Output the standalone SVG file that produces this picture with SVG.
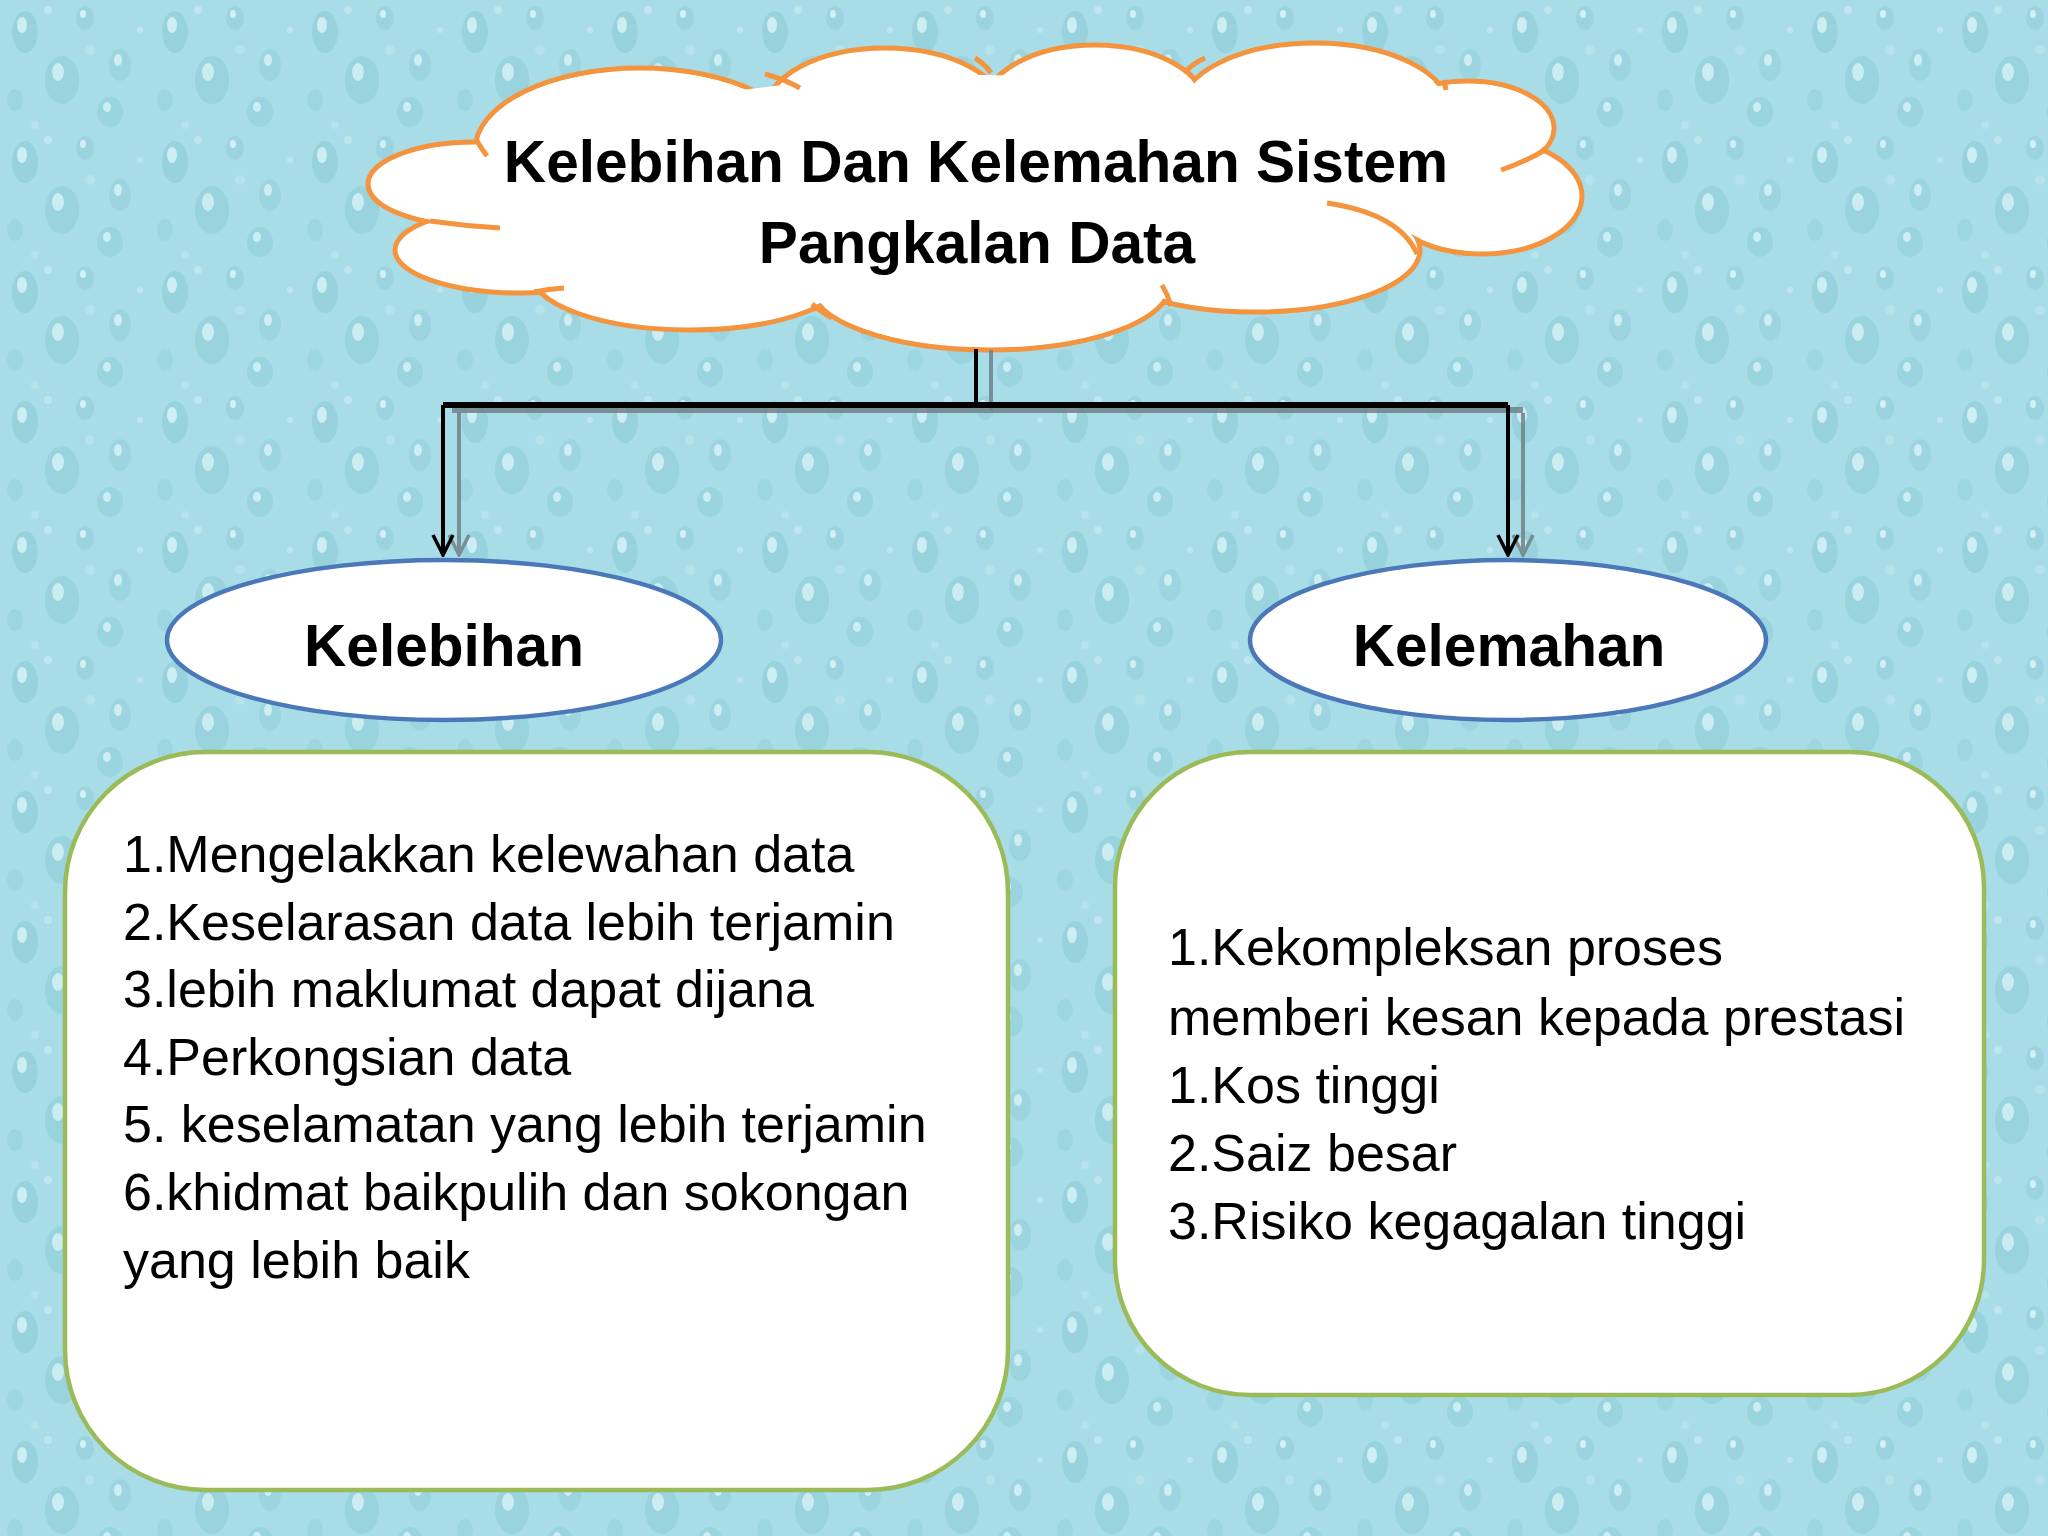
<svg xmlns="http://www.w3.org/2000/svg" width="2048" height="1536" viewBox="0 0 2048 1536">
<defs>
<pattern id="drops" x="0" y="0" width="150" height="130" patternUnits="userSpaceOnUse">
<rect width="150" height="130" fill="#a8dde7"/>
<ellipse cx="25" cy="32" rx="13" ry="21" fill="#97d2dd"/>
<ellipse cx="22" cy="25" rx="5" ry="8" fill="#cdeef3"/>
<ellipse cx="85" cy="18" rx="9" ry="12" fill="#9bd4df"/>
<ellipse cx="83" cy="14" rx="3" ry="4" fill="#d3f0f4"/>
<ellipse cx="62" cy="80" rx="17" ry="24" fill="#98d3de"/>
<ellipse cx="58" cy="72" rx="6" ry="9" fill="#cbedf2"/>
<ellipse cx="120" cy="65" rx="11" ry="16" fill="#9cd5e0"/>
<ellipse cx="118" cy="60" rx="4" ry="6" fill="#cfeef3"/>
<ellipse cx="15" cy="100" rx="8" ry="11" fill="#9dd5e0"/>
<ellipse cx="110" cy="112" rx="13" ry="15" fill="#9ad4df"/>
<ellipse cx="107" cy="107" rx="4" ry="5" fill="#cdeef3"/>
<circle cx="48" cy="10" r="4" fill="#c0e6ed"/>
<circle cx="140" cy="30" r="3" fill="#c0e6ed"/>
<circle cx="90" cy="50" r="5" fill="#b6e2ea"/>
<circle cx="35" cy="125" r="4" fill="#b6e2ea"/>
</pattern>
<marker id="vhead" viewBox="0 0 24 24" markerWidth="24" markerHeight="24" refX="22" refY="12" markerUnits="userSpaceOnUse" orient="auto">
<path d="M2 2 L22 12 L2 22" fill="none" stroke="#000" stroke-width="3.5"/>
</marker>
<marker id="vheadg" viewBox="0 0 24 24" markerWidth="24" markerHeight="24" refX="22" refY="12" markerUnits="userSpaceOnUse" orient="auto">
<path d="M2 2 L22 12 L2 22" fill="none" stroke="#6f8388" stroke-width="3.5"/>
</marker>
</defs>
<style>
.lobe{fill:#fff;stroke:#f4943f;stroke-width:5}
.fill{fill:#fff}
.tail{fill:none;stroke:#f4943f;stroke-width:5;stroke-linecap:butt}
.title{font-family:"Liberation Sans",Arial,sans-serif;font-weight:bold;font-size:58.6px;fill:#000;text-anchor:middle}
.oval{fill:#fff;stroke:#4a78b8;stroke-width:4.5}
.box{fill:#fff;stroke:#9bbb59;stroke-width:4.5}
.body{font-family:"Liberation Sans",Arial,sans-serif;font-size:52px;fill:#000}
.blk{stroke:#000;fill:none}
.shd{stroke:#6f8388;fill:none;opacity:0.85}
</style>
<rect width="2048" height="1536" fill="url(#drops)"/>

<g id="cloud">
<ellipse class="lobe" cx="640" cy="150" rx="165" ry="82"/>
<ellipse class="lobe" cx="885" cy="112" rx="120" ry="64"/>
<ellipse class="lobe" cx="1095" cy="108" rx="112" ry="63"/>
<ellipse class="lobe" cx="1315" cy="110" rx="135" ry="67"/>
<ellipse class="lobe" cx="1468" cy="128" rx="86" ry="47"/>
<ellipse class="lobe" cx="1482" cy="196" rx="100" ry="58"/>
<ellipse class="lobe" cx="1255" cy="250" rx="165" ry="62"/>
<ellipse class="lobe" cx="990" cy="285" rx="180" ry="65"/>
<ellipse class="lobe" cx="690" cy="272" rx="160" ry="58"/>
<ellipse class="lobe" cx="520" cy="250" rx="125" ry="43"/>
<ellipse class="lobe" cx="475" cy="184" rx="107" ry="42"/>
<ellipse class="fill" cx="640" cy="150" rx="162" ry="79"/>
<ellipse class="fill" cx="885" cy="112" rx="117" ry="61"/>
<ellipse class="fill" cx="1095" cy="108" rx="109" ry="60"/>
<ellipse class="fill" cx="1315" cy="110" rx="132" ry="64"/>
<ellipse class="fill" cx="1468" cy="128" rx="83" ry="44"/>
<ellipse class="fill" cx="1482" cy="196" rx="97" ry="55"/>
<ellipse class="fill" cx="1255" cy="250" rx="162" ry="59"/>
<ellipse class="fill" cx="990" cy="285" rx="177" ry="62"/>
<ellipse class="fill" cx="690" cy="272" rx="157" ry="55"/>
<ellipse class="fill" cx="520" cy="250" rx="122" ry="40"/>
<ellipse class="fill" cx="475" cy="184" rx="104" ry="39"/>
<ellipse class="fill" cx="975" cy="190" rx="470" ry="115"/>
<path class="tail" d="M477 141 Q481 148 487 156"/>
<path class="tail" d="M765 74 Q784 79 800 88"/>
<path class="tail" d="M975 58 Q985 64 991 73"/>
<path class="tail" d="M1205 58 Q1194 63 1186 71"/>
<path class="tail" d="M1444 80 L1446 90"/>
<path class="tail" d="M1545 150 Q1525 162 1501 170"/>
<path class="tail" d="M1327 203 Q1400 214 1417 254"/>
<path class="tail" d="M1162 285 Q1168 295 1171 306"/>
<path class="tail" d="M812 304 Q820 311 832 318"/>
<path class="tail" d="M534 292 Q548 289 564 288"/>
<path class="tail" d="M430 221 Q465 226 500 228"/>
<text class="title" x="976" y="182">Kelebihan Dan Kelemahan Sistem</text>
<text class="title" x="977" y="263">Pangkalan Data</text>
</g>

<g id="connectors">
<line class="shd" x1="991" y1="350" x2="991" y2="410" stroke-width="4"/>
<line class="shd" x1="452" y1="410" x2="1523" y2="410" stroke-width="6"/>
<line class="shd" x1="459" y1="413" x2="459" y2="555" stroke-width="4" marker-end="url(#vheadg)"/>
<line class="shd" x1="1523" y1="413" x2="1523" y2="555" stroke-width="4" marker-end="url(#vheadg)"/>
<line class="blk" x1="976" y1="349" x2="976" y2="405" stroke-width="4"/>
<line class="blk" x1="443" y1="405" x2="1508" y2="405" stroke-width="6"/>
<line class="blk" x1="443" y1="405" x2="443" y2="555" stroke-width="4" marker-end="url(#vhead)"/>
<line class="blk" x1="1508" y1="405" x2="1508" y2="555" stroke-width="4" marker-end="url(#vhead)"/>
</g>

<g id="kelebihan">
<ellipse class="oval" cx="444" cy="640" rx="277" ry="80"/>
<text class="title" x="444" y="666">Kelebihan</text>
</g>

<g id="kelemahan">
<ellipse class="oval" cx="1508" cy="640" rx="258" ry="80"/>
<text class="title" x="1509" y="666">Kelemahan</text>
</g>

<g id="box-kelebihan">
<rect class="box" x="65" y="752" width="943" height="738" rx="140" ry="140"/>
<text class="body" x="123" y="872">1.Mengelakkan kelewahan data</text>
<text class="body" x="123" y="940">2.Keselarasan data lebih terjamin</text>
<text class="body" x="123" y="1007">3.lebih maklumat dapat dijana</text>
<text class="body" x="123" y="1075">4.Perkongsian data</text>
<text class="body" x="123" y="1142">5. keselamatan yang lebih terjamin</text>
<text class="body" x="123" y="1210">6.khidmat baikpulih dan sokongan</text>
<text class="body" x="123" y="1278">yang lebih baik</text>
</g>

<g id="box-kelemahan">
<rect class="box" x="1115" y="752" width="869" height="643" rx="135" ry="135"/>
<text class="body" x="1168" y="965">1.Kekompleksan proses</text>
<text class="body" x="1168" y="1035">memberi kesan kepada prestasi</text>
<text class="body" x="1168" y="1103">1.Kos tinggi</text>
<text class="body" x="1168" y="1171">2.Saiz besar</text>
<text class="body" x="1168" y="1239">3.Risiko kegagalan tinggi</text>
</g>
</svg>
